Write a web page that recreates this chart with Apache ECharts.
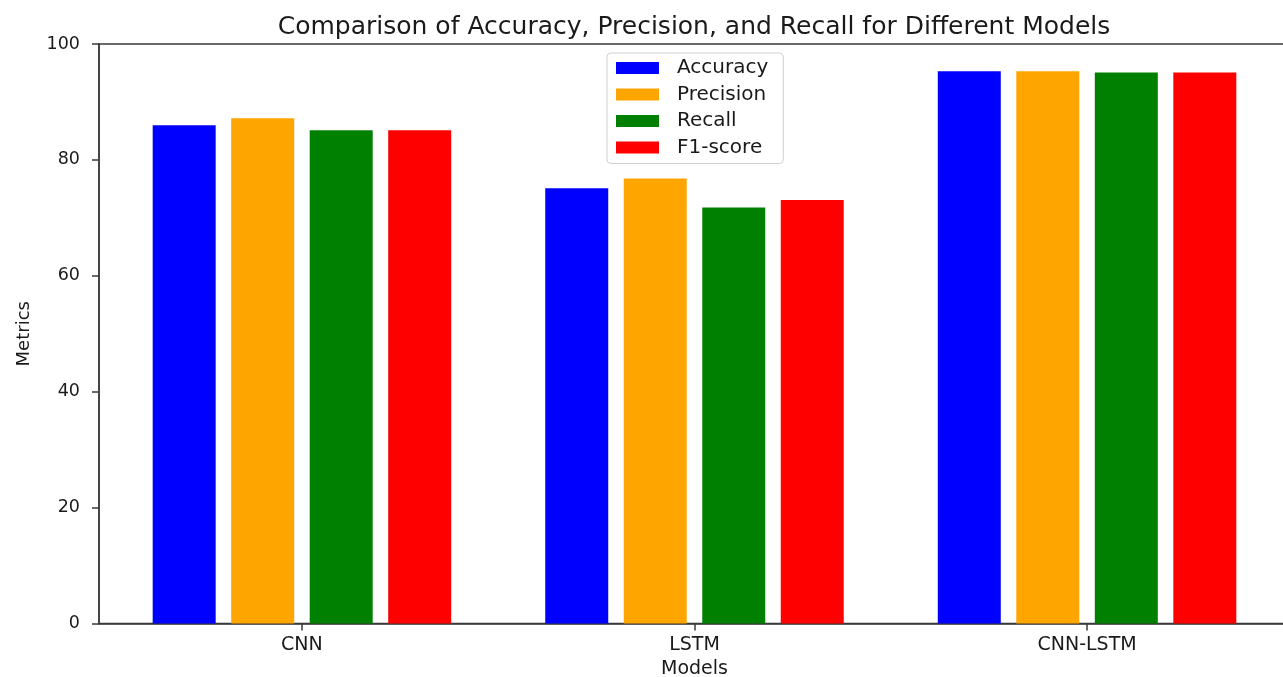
<!DOCTYPE html>
<html>
<head>
<meta charset="utf-8">
<script src="https://cdn.jsdelivr.net/npm/echarts@6/dist/echarts.min.js"></script>
<style>
html,body{margin:0;padding:0;background:#fff;}
#chart{width:1283px;height:677px;}
</style>
</head>
<body>
<div id="chart"></div>
<script>
const models = ['CNN', 'LSTM', 'CNN-LSTM'];
const metricNames = ['Accuracy', 'Precision', 'Recall', 'F1-score'];
const accuracy = [86.0, 75.1, 95.3];
const precision = [87.2, 76.8, 95.3];
const recall = [85.1, 71.8, 95.1];
const f1score = [85.1, 73.1, 95.1];
const yTicks = [0, 20, 40, 60, 80, 100];

const seriesValues = [accuracy, precision, recall, f1score];
const colors = ['#0000ff', '#ffa500', '#008000', '#ff0000'];
const offsets = [-0.3, -0.1, 0.1, 0.3];
const font = 'DejaVu Sans';
const txt = '#1a1a1a';
const axisCol = '#3a3a3a';

const chart = echarts.init(document.getElementById('chart'));
chart.setOption({
  animation: false,
  backgroundColor: '#fff',
  title: {
    text: 'Comparison of Accuracy, Precision, and Recall for Different Models',
    left: 689, top: 10, textAlign: 'center',
    textStyle: { fontFamily: font, fontSize: 25, fontWeight: 'normal', color: txt }
  },
  legend: {
    orient: 'vertical', left: 607, top: 53,
    data: metricNames,
    icon: 'rect', itemWidth: 43, itemHeight: 12, itemGap: 6.5,
    padding: [5, 15, 6, 9],
    borderColor: '#d0d0d0', borderWidth: 1, borderRadius: 4,
    textStyle: { fontFamily: font, fontSize: 20, color: txt, padding: [0, 0, 0, 13] }
  },
  grid: { left: 99, top: 44, width: 1191, height: 579.5, show: true, borderColor: axisCol, borderWidth: 1.5, containLabel: false, outerBoundsMode: 'none' },
  xAxis: {
    type: 'value', min: -0.517, max: 2.517,
    name: 'Models', nameLocation: 'middle', nameGap: 35,
    nameTextStyle: { fontFamily: font, fontSize: 19, color: txt },
    splitLine: { show: false },
    axisLine: { show: true, onZero: false, lineStyle: { color: axisCol, width: 1.5 } },
    axisTick: { show: true, customValues: [0, 1, 2], length: 7, lineStyle: { color: axisCol, width: 1.5 } },
    axisLabel: { customValues: [0, 1, 2], margin: 12.5, fontFamily: font, fontSize: 19, color: txt,
      formatter: v => models[Math.round(v)] }
  },
  yAxis: {
    type: 'value', min: 0, max: 100, interval: 20,
    name: 'Metrics', nameLocation: 'middle', nameGap: 66, nameRotate: 90,
    nameTextStyle: { fontFamily: font, fontSize: 18, color: txt },
    splitLine: { show: false },
    axisLine: { show: true, onZero: false, lineStyle: { color: axisCol, width: 1.5 } },
    axisTick: { show: true, length: 7, lineStyle: { color: axisCol, width: 1.5 } },
    axisLabel: { margin: 19, fontFamily: font, fontSize: 17.5, color: txt }
  },
  series: metricNames.map((name, k) => ({
    name: name, type: 'bar', barWidth: 63, barGap: '-100%',
    itemStyle: { color: colors[k] },
    data: seriesValues[k].map((v, i) => [i + offsets[k], v])
  }))
});
</script>
</body>
</html>
